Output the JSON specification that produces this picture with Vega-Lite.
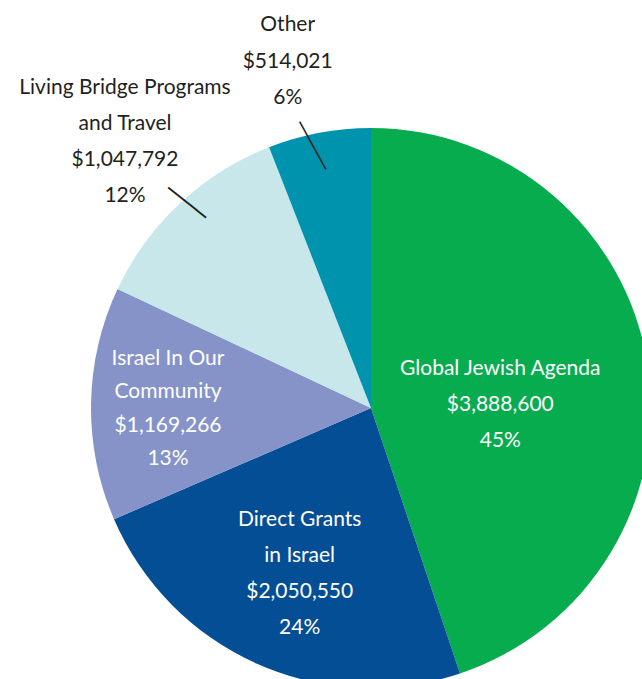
{
  "$schema": "https://vega.github.io/schema/vega-lite/v6.json",
  "width": 642,
  "height": 679,
  "autosize": "none",
  "padding": 0,
  "background": "white",
  "config": {"view": {"stroke": null}},
  "data": {
    "values": [
      {"name": "Global Jewish Agenda", "value": 3888600, "idx": 1, "label": "Global Jewish Agenda\n$3,888,600\n45%"},
      {"name": "Direct Grants in Israel", "value": 2050550, "idx": 2, "label": "Direct Grants\nin Israel\n$2,050,550\n24%"},
      {"name": "Israel In Our Community", "value": 1169266, "idx": 3, "label": "Israel In Our\nCommunity\n$1,169,266\n13%"},
      {"name": "Living Bridge Programs and Travel", "value": 1047792, "idx": 4, "label": "Living Bridge Programs\nand Travel\n$1,047,792\n12%"},
      {"name": "Other", "value": 514021, "idx": 5, "label": "Other\n$514,021\n6%"}
    ]
  },
  "encoding": {
    "theta": {"field": "value", "type": "quantitative", "stack": true},
    "order": {"field": "idx", "type": "quantitative"}
  },
  "layer": [
    {
      "mark": {"type": "arc", "x": 371, "y": 408, "radius": 280},
      "encoding": {
        "color": {
          "field": "name", "type": "nominal", "legend": null,
          "scale": {
            "domain": ["Global Jewish Agenda", "Direct Grants in Israel", "Israel In Our Community", "Living Bridge Programs and Travel", "Other"],
            "range": ["#07AC4F", "#044E96", "#8593C8", "#C8E7EA", "#0093AE"]
          }
        }
      }
    },
    {
      "mark": {"type": "text", "x": 371, "y": 408, "radius": 131, "dy": -18, "lineBreak": "\n", "lineHeight": 36, "font": "Lato", "fontSize": 21, "fill": "white", "align": "center", "baseline": "middle"},
      "encoding": {
        "detail": {"field": "name", "type": "nominal"},
        "text": {"condition": {"test": "datum.name === 'Global Jewish Agenda'", "field": "label", "type": "nominal"}, "value": ""}
      }
    },
    {
      "mark": {"type": "text", "x": 371, "y": 408, "radius": 180, "dx": 2, "dy": -52, "lineBreak": "\n", "lineHeight": 36, "font": "Lato", "fontSize": 21, "fill": "white", "align": "center", "baseline": "middle"},
      "encoding": {
        "detail": {"field": "name", "type": "nominal"},
        "text": {"condition": {"test": "datum.name === 'Direct Grants in Israel'", "field": "label", "type": "nominal"}, "value": ""}
      }
    },
    {
      "mark": {"type": "text", "x": 371, "y": 408, "radius": 203, "dy": -46, "lineBreak": "\n", "lineHeight": 33.5, "font": "Lato", "fontSize": 21, "fill": "white", "align": "center", "baseline": "middle"},
      "encoding": {
        "detail": {"field": "name", "type": "nominal"},
        "text": {"condition": {"test": "datum.name === 'Israel In Our Community'", "field": "label", "type": "nominal"}, "value": ""}
      }
    },
    {
      "mark": {"type": "text", "x": 371, "y": 408, "radius": 363, "dx": 2, "dy": -55, "lineBreak": "\n", "lineHeight": 36, "font": "Lato", "fontSize": 21, "fill": "#231F20", "align": "center", "baseline": "middle"},
      "encoding": {
        "detail": {"field": "name", "type": "nominal"},
        "text": {"condition": {"test": "datum.name === 'Living Bridge Programs and Travel'", "field": "label", "type": "nominal"}, "value": ""}
      }
    },
    {
      "mark": {"type": "text", "x": 371, "y": 408, "radius": 358, "dx": -17, "dy": -31, "lineBreak": "\n", "lineHeight": 36.5, "font": "Lato", "fontSize": 21, "fill": "#231F20", "align": "center", "baseline": "middle"},
      "encoding": {
        "detail": {"field": "name", "type": "nominal"},
        "text": {"condition": {"test": "datum.name === 'Other'", "field": "label", "type": "nominal"}, "value": ""}
      }
    },
    {
      "mark": {"type": "text", "x": 371, "y": 408, "radius": 269, "dx": -2.4, "dy": 9.4, "angle": 61, "font": "DejaVu Sans", "fontSize": 18, "fontWeight": "bold", "fill": "#231F20", "align": "center", "baseline": "middle"},
      "encoding": {
        "detail": {"field": "name", "type": "nominal"},
        "text": {"condition": {"test": "datum.name === 'Other'", "value": "─────"}, "value": ""}
      }
    },
    {
      "mark": {"type": "text", "x": 371, "y": 408, "radius": 274, "dx": -0.7, "dy": -5.5, "angle": 38.5, "font": "DejaVu Sans", "fontSize": 20, "fontWeight": "bold", "fill": "#231F20", "align": "center", "baseline": "middle"},
      "encoding": {
        "detail": {"field": "name", "type": "nominal"},
        "text": {"condition": {"test": "datum.name === 'Living Bridge Programs and Travel'", "value": "────"}, "value": ""}
      }
    }
  ]
}
